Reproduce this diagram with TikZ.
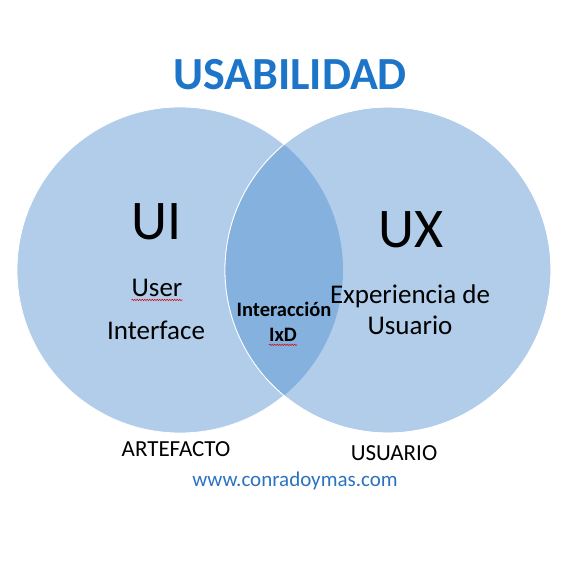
\documentclass[tikz,border=0pt]{standalone}
\usepackage{fontspec}
\setmainfont{Carlito}
\usepackage{tikz}
\usetikzlibrary{positioning, decorations.pathmorphing}
\usepackage{xcolor}
\definecolor{setblue}{HTML}{B1CDEA}
\definecolor{lensblue}{HTML}{85B1DE}
\definecolor{titleblue}{HTML}{1C75C9}
\definecolor{webblue}{HTML}{2B73C1}
\tikzset{
  setcircle/.style={circle, draw=white, line width=0.8pt, fill=setblue,
                    minimum size=326pt, inner sep=0pt},
  bigtag/.style={font=\fontsize{56}{60}\selectfont, inner sep=0pt},
  midtag/.style={font=\fontsize{27}{32}\selectfont, align=center, inner sep=0pt},
  lenstag/.style={font=\fontsize{20.5}{26}\selectfont\bfseries, align=center, inner sep=0pt},
  foottag/.style={font=\fontsize{23}{26}\selectfont, inner sep=0pt},
  spellmark/.style={red!85!black, line width=0.5pt, decorate,
                    decoration={snake, amplitude=0.7pt, segment length=2.5pt}},
}
\begin{document}
\begin{tikzpicture}[x=1pt, y=-1pt]
  \useasboundingbox (0,0) rectangle (578,565);
  \fill[white] (0,0) rectangle (578,565);

  % sets
  \node [setcircle] (ui) at (180,270) {};
  \node [setcircle] (ux) at (388,270) {};
  \begin{scope}
    \clip (ui.center) circle[radius=163pt];
    \fill[lensblue] (ux.center) circle[radius=163pt];
  \end{scope}
  \draw[white, line width=0.8pt] (ux.center) circle[radius=163pt];

  % labels
  \node [font=\fontsize{46}{50}\selectfont\bfseries, text=titleblue] (title) at (290,75) {USABILIDAD};
  \node [bigtag] (uitag) at (157,222) {UI};
  \node [bigtag] (uxtag) at (411,230) {UX};
  \node [midtag] (user) at (157,288) {User};
  \node [midtag] (iface) at (156,330) {Interface};
  \node [midtag] (exp) at (410,296) {Experiencia de};
  \node [midtag] (usu) at (410,325) {Usuario};
  \node [lenstag] (inter) at (284,309) {Interacción};
  \node [lenstag] (ixd) at (283,335) {IxD};
  \node [foottag] (artef) at (176,449) {ARTEFACTO};
  \node [foottag] (usuario) at (394,453) {USUARIO};
  \node [font=\fontsize{21}{24}\selectfont, text=webblue] (web) at (295,481) {www.conradoymas.com};

  % spell-check marks
  \draw [spellmark] ([yshift=-3pt]user.south west) -- ([yshift=-3pt]user.south east);
  \draw [spellmark] ([yshift=-3pt]ixd.south west) -- ([yshift=-3pt]ixd.south east);
\end{tikzpicture}
\end{document}
